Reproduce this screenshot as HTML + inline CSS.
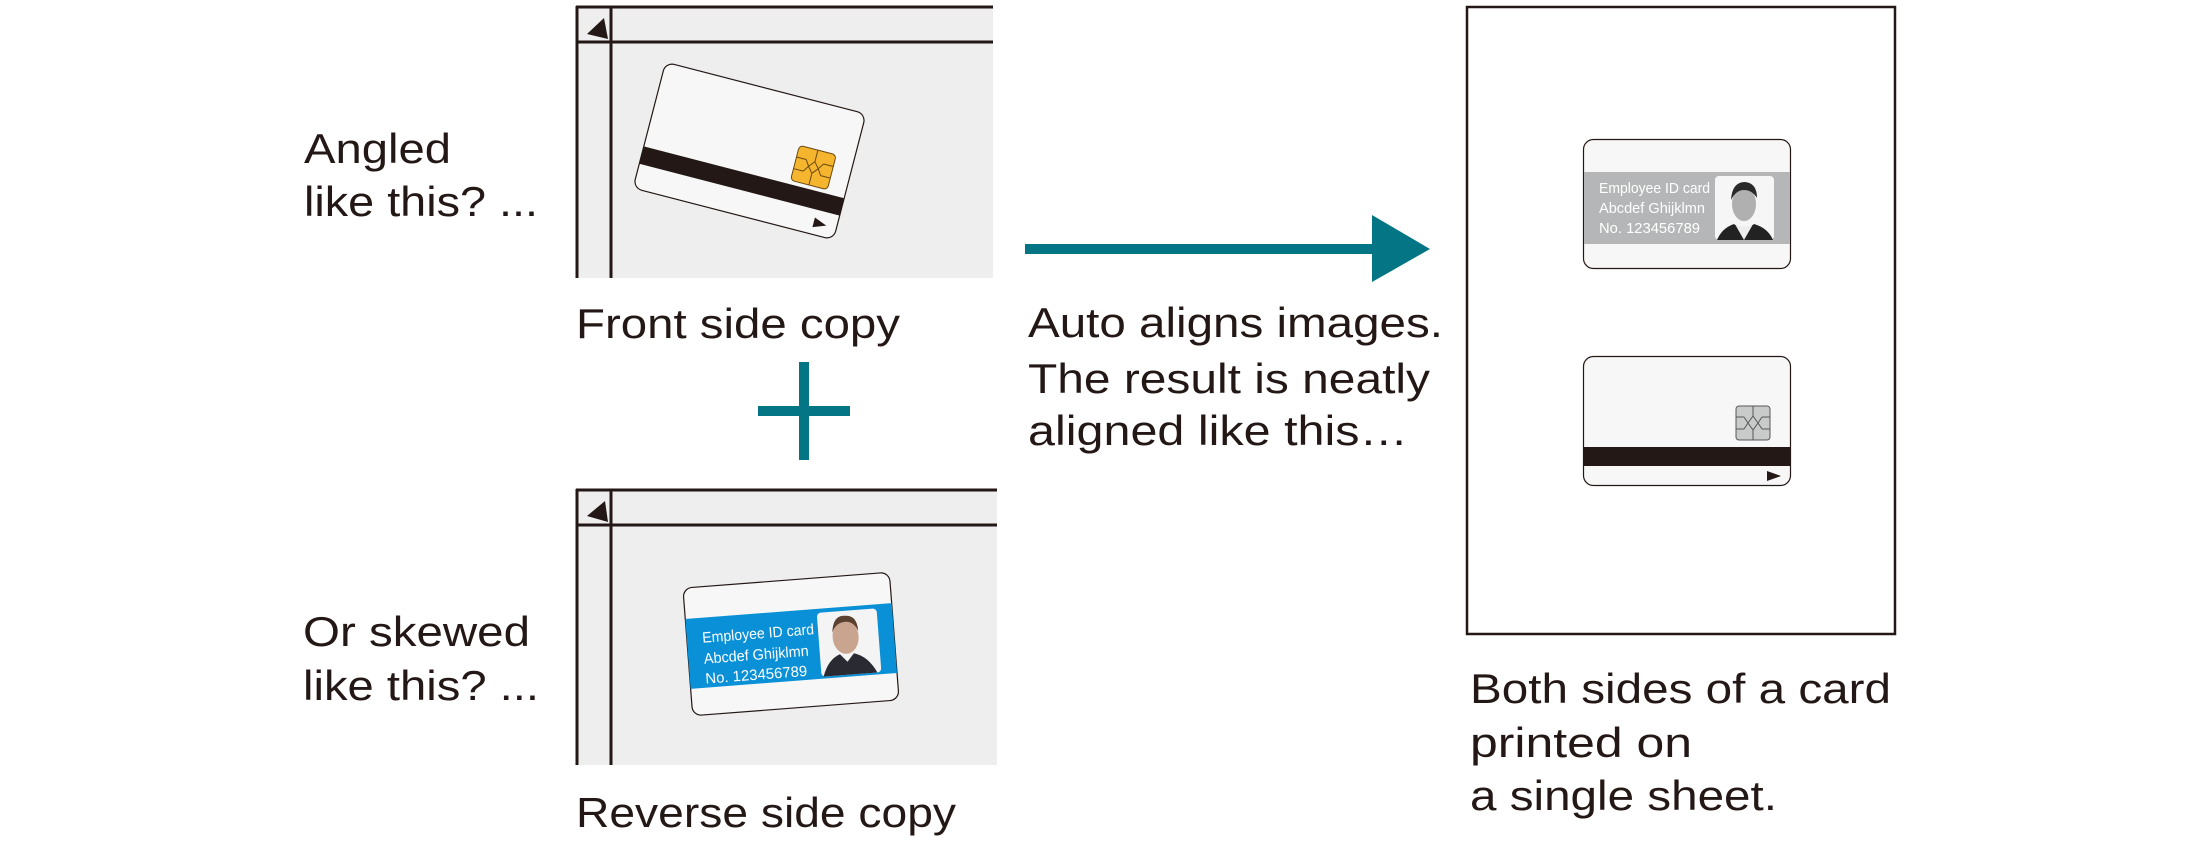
<!DOCTYPE html>
<html><head><meta charset="utf-8"><style>
html,body{margin:0;padding:0;background:#fff;}
svg{display:block;}
text{font-family:"Liberation Sans",sans-serif;fill:#231815;}
</style></head><body>
<svg width="2200" height="841" viewBox="0 0 2200 841" xmlns="http://www.w3.org/2000/svg">
<!-- left labels -->
<g font-size="42">
<text x="304" y="163" textLength="147" lengthAdjust="spacingAndGlyphs">Angled</text>
<text x="304" y="216" textLength="234" lengthAdjust="spacingAndGlyphs">like this? ...</text>
<text x="576" y="338" textLength="324" lengthAdjust="spacingAndGlyphs">Front side copy</text>
<text x="303" y="646" textLength="227" lengthAdjust="spacingAndGlyphs">Or skewed</text>
<text x="303" y="700" textLength="236" lengthAdjust="spacingAndGlyphs">like this? ...</text>
<text x="576" y="827" textLength="380" lengthAdjust="spacingAndGlyphs">Reverse side copy</text>
<text x="1028" y="337" textLength="415" lengthAdjust="spacingAndGlyphs">Auto aligns images.</text>
<text x="1028" y="393" textLength="402" lengthAdjust="spacingAndGlyphs">The result is neatly</text>
<text x="1028" y="445" textLength="380" lengthAdjust="spacingAndGlyphs">aligned like this…</text>
<text x="1470" y="703" textLength="421" lengthAdjust="spacingAndGlyphs">Both sides of a card</text>
<text x="1470" y="757" textLength="222" lengthAdjust="spacingAndGlyphs">printed on</text>
<text x="1470" y="810" textLength="307" lengthAdjust="spacingAndGlyphs">a single sheet.</text>
</g>

<!-- top scanner panel -->
<rect x="576" y="6" width="417" height="272" fill="#eeeeee"/>
<line x1="576" y1="7" x2="993" y2="7" stroke="#231815" stroke-width="3"/>
<line x1="577" y1="6" x2="577" y2="278" stroke="#231815" stroke-width="3"/>
<line x1="576" y1="42" x2="993" y2="42" stroke="#231815" stroke-width="3"/>
<line x1="611" y1="6" x2="611" y2="278" stroke="#231815" stroke-width="3"/>
<polygon points="587,34 608,39 604,18" fill="#231815"/>
<g transform="translate(749.5,151) rotate(14.5)">
<rect x="-103.5" y="-65" width="207" height="130" rx="9" fill="#f6f7f6" stroke="#231815" stroke-width="1.2"/>
<rect x="-103.5" y="22" width="207" height="18" fill="#231815"/>
<rect x="47" y="-18" width="38" height="36" rx="4" fill="#f5b52e" stroke="#6b4a10" stroke-width="1"/>
<path d="M66,-18 V-6 M66,6 V18 M47,-6 H57 M47,6 H57 M75,-6 H85 M75,6 H85 M57,-6 L61,0 L57,6 M75,-6 L71,0 L75,6 M61,0 L66,-6 L71,0 L66,6 Z" fill="none" stroke="#6b4a10" stroke-width="1"/>
<polygon points="80,48 93,53 80,58" fill="#231815"/>
</g>

<!-- plus -->
<rect x="758" y="406" width="92" height="10" fill="#037584"/>
<rect x="799" y="362" width="10" height="98" fill="#037584"/>

<!-- bottom scanner panel -->
<rect x="576" y="489" width="421" height="276" fill="#eeeeee"/>
<line x1="576" y1="490" x2="997" y2="490" stroke="#231815" stroke-width="3"/>
<line x1="577" y1="489" x2="577" y2="765" stroke="#231815" stroke-width="3"/>
<line x1="576" y1="525" x2="997" y2="525" stroke="#231815" stroke-width="3"/>
<line x1="611" y1="489" x2="611" y2="765" stroke="#231815" stroke-width="3"/>
<polygon points="587,516 608,522 605,501" fill="#231815"/>
<g transform="translate(791,644) rotate(-4.4)">
<rect x="-103.5" y="-64" width="207" height="128" rx="9" fill="#f6f7f6" stroke="#231815" stroke-width="1.2"/>
<rect x="-103.5" y="-33" width="207" height="70" fill="#0a90d6"/>
<rect x="28" y="-29" width="60" height="64" rx="4" fill="#f4f4f4"/>
<ellipse cx="55" cy="-3" rx="13" ry="17" fill="#c9a48e"/>
<path d="M42,-8 Q44,-26 56,-24 Q68,-24 68,-8 Q64,-18 56,-18 Q46,-18 42,-8Z" fill="#5a4030"/>
<path d="M30,35 Q36,18 48,14 L55,22 L62,14 Q76,18 84,35Z" fill="#2a2a33"/>
<g fill="#fff" font-size="15" style="fill:#fff">
<text x="-88" y="-8" style="fill:#fff" textLength="112" lengthAdjust="spacingAndGlyphs">Employee ID card</text>
<text x="-88" y="13" style="fill:#fff" textLength="105" lengthAdjust="spacingAndGlyphs">Abcdef Ghijklmn</text>
<text x="-88" y="33" style="fill:#fff" textLength="102" lengthAdjust="spacingAndGlyphs">No. 123456789</text>
</g>
</g>

<!-- arrow -->
<rect x="1025" y="244" width="350" height="10" fill="#037584"/>
<polygon points="1372,215 1430,249 1372,282" fill="#037584"/>

<!-- sheet -->
<rect x="1467" y="7" width="428" height="627" fill="#fff" stroke="#231815" stroke-width="2.5"/>
<!-- card 1 -->
<rect x="1583.5" y="139.5" width="207" height="129" rx="10" fill="#f6f7f6" stroke="#231815" stroke-width="1.2"/>
<rect x="1584" y="172" width="206" height="72" fill="#b5b6b7"/>
<rect x="1715" y="176" width="59" height="64" rx="4" fill="#f6f6f6"/>
<ellipse cx="1744" cy="204" rx="12" ry="17" fill="#b0b0b0"/>
<path d="M1731,200 Q1732,182 1745,182 Q1757,183 1757,198 Q1752,190 1744,190 Q1736,190 1731,200Z" fill="#2a2a2a"/>
<path d="M1717,240 Q1722,228 1734,224 L1744,232 L1754,224 Q1768,228 1773,240Z" fill="#222"/>
<path d="M1736,226 L1744,240 L1752,226Z" fill="#eee"/>
<text x="1599" y="193" font-size="15" style="fill:#fff" textLength="111" lengthAdjust="spacingAndGlyphs">Employee ID card</text>
<text x="1599" y="213" font-size="15" style="fill:#fff" textLength="106" lengthAdjust="spacingAndGlyphs">Abcdef Ghijklmn</text>
<text x="1599" y="233" font-size="15" style="fill:#fff" textLength="101" lengthAdjust="spacingAndGlyphs">No. 123456789</text>
<!-- card 2 -->
<rect x="1583.5" y="356.5" width="207" height="129" rx="10" fill="#f6f7f6" stroke="#231815" stroke-width="1.2"/>
<rect x="1736" y="406" width="34" height="34" rx="3" fill="#c9caca" stroke="#595757" stroke-width="1"/>
<path d="M1753,406 V416 M1753,430 V440 M1736,417 H1744 M1736,429 H1744 M1762,417 H1770 M1762,429 H1770 M1744,417 L1748,423 L1744,429 M1762,417 L1758,423 L1762,429 M1748,423 L1753,416 L1758,423 L1753,430Z" fill="none" stroke="#595757" stroke-width="1"/>
<rect x="1584" y="447" width="206" height="19" fill="#231815"/>
<polygon points="1767,471 1781,476 1767,481" fill="#231815"/>
</svg>
</body></html>
